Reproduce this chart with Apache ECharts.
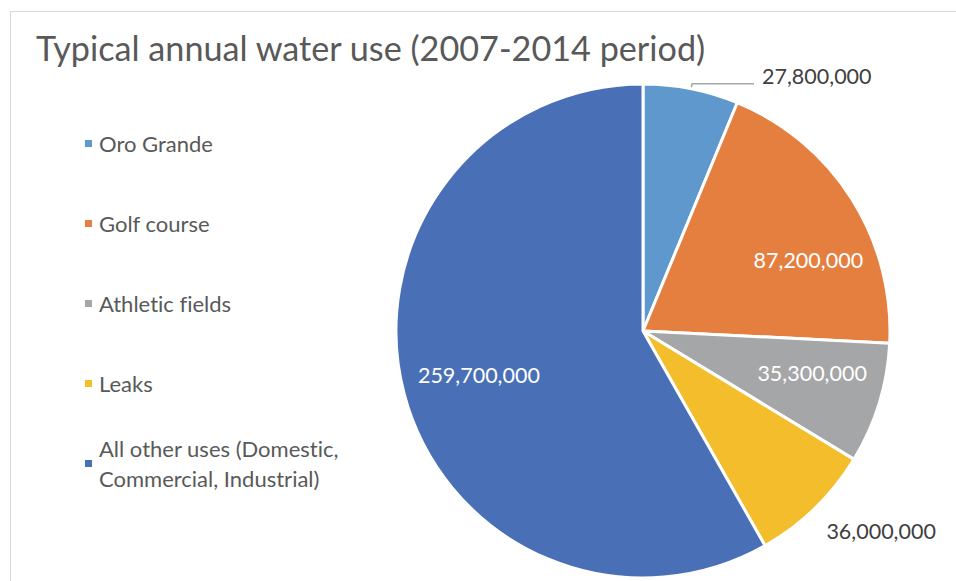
<!DOCTYPE html>
<html>
<head>
<meta charset="utf-8">
<script src="https://cdn.jsdelivr.net/npm/echarts@6/dist/echarts.min.js"></script>
<style>
  html, body { margin: 0; padding: 0; background: #fff; }
  #frame { position: absolute; left: 10px; top: 11px; width: 1000px; height: 700px;
           border-left: 1px solid #d9d9d9; border-top: 1px solid #d9d9d9; }
  #main { position: absolute; left: 0; top: 0; width: 956px; height: 581px; }
  #main text { font-variant-ligatures: none; font-feature-settings: "liga" 0; }
</style>
</head>
<body>
<div id="frame"></div>
<div id="main"></div>
<script>
// data
var categories = ["Oro Grande", "Golf course", "Athletic fields", "Leaks", "All other uses (Domestic, Commercial, Industrial)"];
var values = [27800000, 87200000, 35300000, 36000000, 259700000];
var colors = ["#5f98cc", "#e57f3f", "#a5a6a8", "#f4bd2b", "#4970b6"];
// which labels sit outside the pie
var outside = [true, false, false, true, false];
// nudges of the labels (Excel best-fit placement)
var labelOffsets = [[0, -8], [15, 24], [-1, -10], [-4, 7], [8, -2]];

var font = "Lato, 'Open Sans', sans-serif";
var fmt = function (v) { return v.toLocaleString("en-US"); };

var mainData = categories.map(function (c, i) {
  var d = { name: c, value: values[i], itemStyle: { color: colors[i] } };
  if (i === 0) {
    d.label = { show: true, offset: labelOffsets[i] };
    d.labelLine = { show: true, length: 5, length2: 62 };
  } else if (i === 3) {
    d.label = { show: true, distanceToLabelLine: 0, offset: labelOffsets[i] };
    d.labelLine = { show: false, length: 22, length2: 0 };
  } else {
    d.label = { show: false };
  }
  return d;
});

var innerData = categories.map(function (c, i) {
  return { name: c, value: values[i], label: { show: !outside[i], offset: labelOffsets[i] } };
});

let myChart = echarts.init(document.getElementById("main"), null, { renderer: "svg" });
let option = {
  animation: false,
  title: {
    text: "Typical annual water use (2007-2014 period)",
    left: 31,
    top: 25,
    textStyle: { color: "#595959", fontSize: 34.2, fontWeight: "normal", fontFamily: font }
  },
  legend: [
    {
      orient: "vertical",
      left: 83,
      top: 128.5,
      padding: 0,
      itemWidth: 9,
      itemHeight: 9,
      itemGap: 50,
      icon: "rect",
      selectedMode: false,
      data: categories.slice(0, 4),
      textStyle: { color: "#595959", fontSize: 22, fontFamily: font, lineHeight: 30, padding: [0, 0, 0, 1] }
    },
    {
      orient: "vertical",
      left: 83,
      top: 418.5,
      padding: 0,
      itemWidth: 9,
      itemHeight: 9,
      icon: "rect",
      selectedMode: false,
      data: categories.slice(4),
      formatter: function () { return "All other uses (Domestic,\nCommercial, Industrial)"; },
      textStyle: { color: "#595959", fontSize: 22, fontFamily: font, lineHeight: 30, padding: [30, 0, 0, 1] }
    }
  ],
  series: [
    {
      name: "water",
      type: "pie",
      center: [643, 331],
      radius: 247,
      startAngle: 90,
      clockwise: true,
      avoidLabelOverlap: false,
      itemStyle: { borderColor: "#fff", borderWidth: 3 },
      label: {
        position: "outside",
        color: "#404040",
        fontSize: 21.5,
        fontFamily: font,
        distanceToLabelLine: 8,
        formatter: function (p) { return fmt(p.value); }
      },
      labelLine: { lineStyle: { color: "#a6a6a6", width: 1.5 }, smooth: false },
      emphasis: { scale: false },
      data: mainData
    },
    {
      name: "labels",
      type: "pie",
      center: [643, 331],
      radius: [103, 247],
      startAngle: 90,
      clockwise: true,
      silent: true,
      legendHoverLink: false,
      itemStyle: { color: "rgba(0,0,0,0)" },
      label: {
        position: "inside",
        color: "#fff",
        fontSize: 21.5,
        fontFamily: font,
        formatter: function (p) { return fmt(p.value); }
      },
      labelLine: { show: false },
      data: innerData
    }
  ]
};
myChart.setOption(option, true);
</script>
</body>
</html>
